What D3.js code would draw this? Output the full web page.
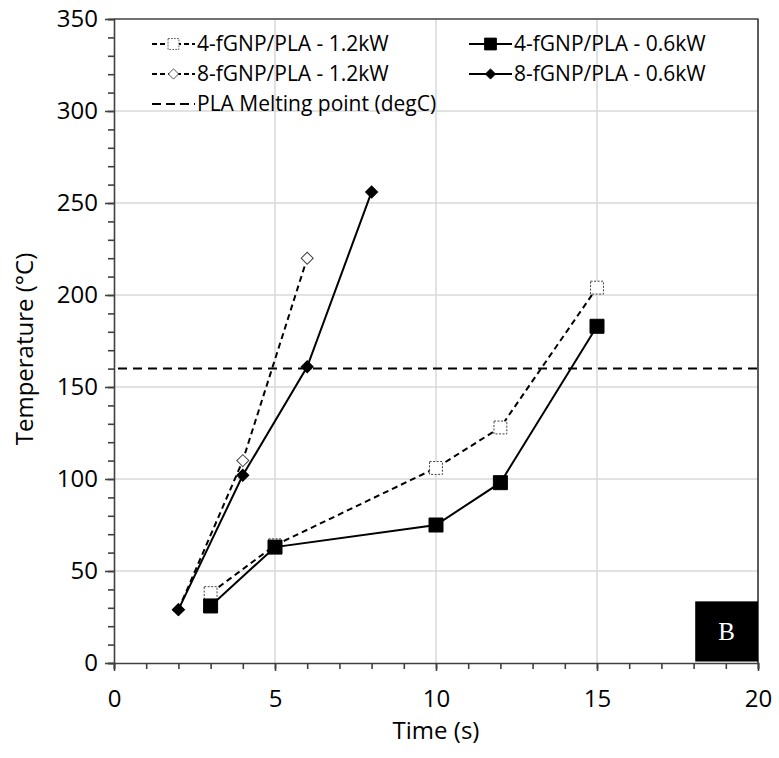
<!DOCTYPE html>
<html>
<head>
<meta charset="utf-8">
<script src="https://cdn.jsdelivr.net/npm/d3@7"></script>
<style>
  body { margin: 0; background: #fff; }
  text { font-family: "Open Sans", Lato, sans-serif; }
</style>
</head>
<body>
<script>
// series data
const time4 = [3, 5, 10, 12, 15];
const temp4High = [38, 64, 106, 128, 204];   // 4-fGNP/PLA - 1.2kW
const temp4Low = [31, 63, 75, 98, 183];      // 4-fGNP/PLA - 0.6kW
const time8High = [2, 4, 6];
const temp8High = [29, 110, 220];            // 8-fGNP/PLA - 1.2kW
const time8Low = [2, 4, 6, 8];
const temp8Low = [29, 102, 161, 256];        // 8-fGNP/PLA - 0.6kW
const meltPoint = 160;                       // PLA melting point (degC)

const xTicks = [0, 5, 10, 15, 20];
const yTicks = [0, 50, 100, 150, 200, 250, 300, 350];

// set the dimensions of the canvas
var margin = {top: 19, right: 21, bottom: 95, left: 114},
    width = 779 - margin.left - margin.right,
    height = 758 - margin.top - margin.bottom;

var x = d3.scaleLinear().domain([0, 20]).range([0, width]);
var y = d3.scaleLinear().domain([0, 350]).range([height, 0]);

var svg = d3.select("body")
    .append("svg")
    .attr("width", 779)
    .attr("height", 758)
    .append("g")
    .attr("transform", "translate(" + margin.left + "," + margin.top + ")");

// gridlines
svg.selectAll(".hgrid")
    .data(yTicks.slice(1))
    .enter().append("line")
    .attr("x1", 0).attr("x2", width)
    .attr("y1", d => y(d)).attr("y2", d => y(d))
    .attr("stroke", "#d9d9d9").attr("stroke-width", 1.5);

svg.selectAll(".vgrid")
    .data(xTicks.slice(1))
    .enter().append("line")
    .attr("y1", 0).attr("y2", height)
    .attr("x1", d => x(d)).attr("x2", d => x(d))
    .attr("stroke", "#d9d9d9").attr("stroke-width", 1.5);

// frame top and right
svg.append("path")
    .attr("d", "M0,0H" + width + "V" + height)
    .attr("fill", "none").attr("stroke", "#000").attr("stroke-width", 1.2);

// minor ticks
var xAxisMinor = d3.axisBottom(x).tickValues(d3.range(0, 21, 1)).tickSize(6).tickFormat("");
var yAxisMinor = d3.axisLeft(y).tickValues(d3.range(0, 351, 10)).tickSize(6).tickFormat("");

svg.append("g")
    .attr("transform", "translate(0," + height + ")")
    .call(xAxisMinor)
    .call(g => g.selectAll("line,path").attr("stroke", "#404040").attr("stroke-width", 1.6));

svg.append("g")
    .call(yAxisMinor)
    .call(g => g.selectAll("line,path").attr("stroke", "#404040").attr("stroke-width", 1.6));

// major tick labels
var xAxis = d3.axisBottom(x).tickValues(xTicks).tickSize(8).tickPadding(19);
var yAxis = d3.axisLeft(y).tickValues(yTicks).tickSize(9).tickPadding(7);

svg.append("g")
    .attr("transform", "translate(0," + height + ")")
    .call(xAxis)
    .call(g => g.select(".domain").remove())
    .call(g => g.selectAll("line").attr("stroke", "#404040").attr("stroke-width", 1.6))
    .call(g => g.selectAll("text").style("font-size", "24px").style("fill", "#000"));

svg.append("g")
    .call(yAxis)
    .call(g => g.select(".domain").remove())
    .call(g => g.selectAll("line").attr("stroke", "#404040").attr("stroke-width", 1.6))
    .call(g => g.selectAll("text").style("font-size", "24px").style("fill", "#000"));

// axis titles
svg.append("text")
    .attr("x", width / 2)
    .attr("y", height + 76)
    .attr("text-anchor", "middle")
    .style("font-size", "24px")
    .text("Time (s)");

svg.append("text")
    .attr("transform", "translate(" + (-81) + "," + (height / 2 + 8) + ") rotate(-90)")
    .attr("text-anchor", "middle")
    .style("font-size", "24px")
    .text("Temperature (°C)");

// melting point line
svg.append("line")
    .attr("x1", x(0) + 4).attr("x2", x(20))
    .attr("y1", y(meltPoint)).attr("y2", y(meltPoint))
    .attr("stroke", "#000").attr("stroke-width", 2)
    .attr("stroke-dasharray", "9,6");

var line = d3.line().x(d => x(d[0])).y(d => y(d[1]));

function drawSeries(times, temps, dashed) {
    svg.append("path")
        .datum(d3.zip(times, temps))
        .attr("d", line)
        .attr("fill", "none")
        .attr("stroke", "#000")
        .attr("stroke-width", 2)
        .attr("stroke-dasharray", dashed ? "6,4" : null);
}

// diamonds are squares turned 45 degrees, as in the original
function marker(sel, kind, open) {
    var size = kind === "square" ? (open ? 165 : 196) : 72;
    sel.append("path")
        .attr("d", d3.symbol().type(d3.symbolSquare).size(size))
        .attr("transform", kind === "diamond" ? "rotate(45)" : null)
        .attr("fill", open ? "#fff" : "#000")
        .attr("stroke", open ? "#404040" : "#000")
        .attr("stroke-width", 1)
        .attr("stroke-dasharray", open && kind === "square" ? "2,1.5" : null);
}

function drawMarkers(times, temps, kind, open) {
    svg.selectAll(null)
        .data(d3.zip(times, temps))
        .enter().append("g")
        .attr("transform", d => "translate(" + x(d[0]) + "," + y(d[1]) + ")")
        .call(marker, kind, open);
}

drawSeries(time4, temp4High, true);
drawSeries(time8High, temp8High, true);
drawSeries(time4, temp4Low, false);
drawSeries(time8Low, temp8Low, false);
drawMarkers(time4, temp4High, "square", true);
drawMarkers(time8High, temp8High, "diamond", true);
drawMarkers(time4, temp4Low, "square", false);
drawMarkers(time8Low, temp8Low, "diamond", false);

// legend
var legendItems = [
    {label: "4-fGNP/PLA - 1.2kW", kind: "square", open: true, dashed: true, col: 0, row: 0},
    {label: "4-fGNP/PLA - 0.6kW", kind: "square", open: false, dashed: false, col: 1, row: 0},
    {label: "8-fGNP/PLA - 1.2kW", kind: "diamond", open: true, dashed: true, col: 0, row: 1},
    {label: "8-fGNP/PLA - 0.6kW", kind: "diamond", open: false, dashed: false, col: 1, row: 1},
    {label: "PLA Melting point (degC)", kind: null, open: false, dashed: true, col: 0, row: 2}
];
var colX = [38, 355], rowY = [25, 55, 85], sampleW = 43;

legendItems.forEach(function(it) {
    var g = svg.append("g")
        .attr("transform", "translate(" + colX[it.col] + "," + rowY[it.row] + ")");
    g.append("line")
        .attr("x1", 0).attr("x2", sampleW)
        .attr("stroke", "#000").attr("stroke-width", 2)
        .attr("stroke-dasharray", it.kind === null ? "9,5" : (it.dashed ? "5,3" : null));
    if (it.kind) {
        g.append("g")
            .attr("transform", "translate(" + sampleW / 2 + ",0) scale(0.85)")
            .call(marker, it.kind, it.open);
    }
    g.append("text")
        .attr("x", sampleW + 2)
        .attr("dy", "0.35em")
        .style("font-size", "21px")
        .style("fill", "#000")
        .text(it.label);
});

// panel label
svg.append("rect")
    .attr("x", x(18.05)).attr("y", y(33.5))
    .attr("width", x(20) - x(18.05)).attr("height", y(0.8) - y(33.5))
    .attr("fill", "#000");
svg.append("text")
    .attr("x", (x(18.05) + x(20)) / 2)
    .attr("y", y(17))
    .attr("dy", "0.35em")
    .attr("text-anchor", "middle")
    .style("font-family", "'Liberation Serif', serif")
    .style("font-size", "25px")
    .style("fill", "#fff")
    .text("B");
</script>
</body>
</html>
